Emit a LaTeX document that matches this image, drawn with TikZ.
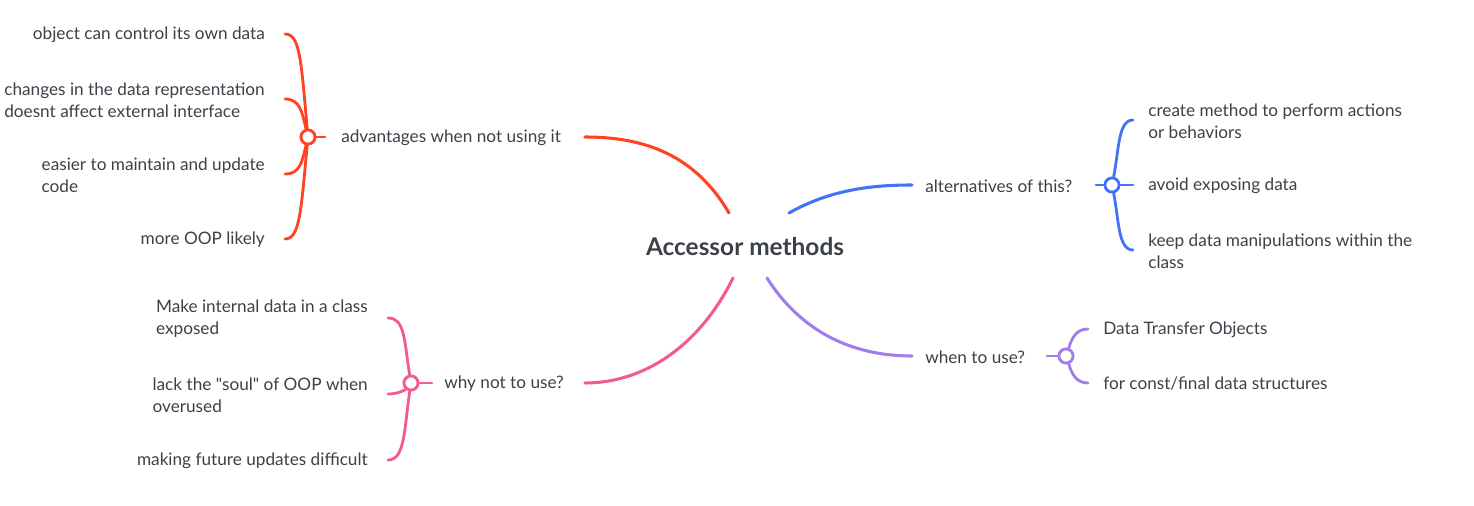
\documentclass[tikz,border=0pt]{standalone}
\usepackage{fontspec}
\setmainfont{Lato}[Ligatures=TeXOff]
\usetikzlibrary{calc}
\definecolor{cred}{HTML}{FF4223}
\definecolor{cpink}{HTML}{F55A8C}
\definecolor{cblue}{HTML}{4272F8}
\definecolor{cpurp}{HTML}{A07CEC}
\definecolor{ctext}{HTML}{3C4048}
\begin{document}
\begin{tikzpicture}[x=0.75pt,y=-0.75pt,
  txt/.style={inner sep=0pt,text=ctext,font=\fontsize{12.9pt}{16.5pt}\selectfont,align=left},
  leafL/.style={txt,anchor=east},
  leafR/.style={txt,anchor=west},
  main/.style={line width=2.3pt,line cap=round},
  sub/.style={line width=2.1pt,line cap=round},
  hub/.style={circle,draw=#1,fill=white,line width=2pt,minimum size=10.5pt,inner sep=0pt}]
\useasboundingbox (0,0) rectangle (1474,506);
% root
\node[inner sep=0pt,text=ctext,font=\bfseries\fontsize{18.3pt}{22pt}\selectfont] (root) at (745,247) {Accessor methods};
\coordinate (rA) at (729,213);
\coordinate (rC) at (789,213);
\coordinate (rB) at (733,278);
\coordinate (rD) at (767,278);
% red branch
\node[txt,anchor=west] (bA) at (341,138) {advantages when not using it};
\coordinate (bAe) at (585,137);
\coordinate (bAw) at (325,137);
\draw[main,cred] (rA) .. controls (695,155) and (645,137) .. (bAe);
\node[hub=cred] (cA) at (308,137) {};
\node[leafL] (a1) at (265,35) {object can control its own data};
\node[leafL] (a2) at (265,100) {changes in the data representation\\doesnt affect external interface};
\node[leafL] (a3) at (265,175) {easier to maintain and update\\code};
\node[leafL] (a4) at (265,240) {more OOP likely};
\begin{scope}[sub,cred]
\draw (cA) -- (bAw);
\draw (cA) .. controls (301,60) and (300,34) .. ($(a1.east)+(20,-1)$);
\draw (cA) .. controls (302,112) and (300,99) .. ($(a2.east)+(20,-1)$);
\draw (cA) .. controls (302,162) and (300,174) .. ($(a3.east)+(20,-1)$);
\draw (cA) .. controls (301,210) and (300,239) .. ($(a4.east)+(20,-1)$);
\end{scope}
\node[hub=cred] at (cA) {};
% pink branch
\node[txt,anchor=west] (bB) at (444,384) {why not to use?};
\coordinate (bBe) at (585,383);
\coordinate (bBw) at (432,383);
\draw[main,cpink] (rB) .. controls (700,345) and (645,383) .. (bBe);
\node[hub=cpink] (cB) at (411,383) {};
\node[leafL] (p1) at (368,319) {Make internal data in a class\\exposed};
\node[leafL] (p2) at (368,395) {lack the "soul" of OOP when\\overused};
\node[leafL] (p3) at (368,461) {making future updates difficult};
\begin{scope}[sub,cpink]
\draw (cB) -- (bBw);
\draw (cB) .. controls (404,340) and (405,318) .. ($(p1.east)+(20,-1)$);
\draw (cB) .. controls (405,390) and (398,394) .. ($(p2.east)+(20,-1)$);
\draw (cB) .. controls (404,430) and (405,460) .. ($(p3.east)+(20,-1)$);
\end{scope}
\node[hub=cpink] at (cB) {};
% blue branch
\node[txt,anchor=west] (bC) at (925,186) {alternatives of this?};
\coordinate (bCw) at (912,185);
\coordinate (bCe) at (1096,185);
\draw[main,cblue] (rC) .. controls (830,190) and (870,185) .. (bCw);
\node[hub=cblue] (cC) at (1112,185) {};
\node[leafR] (c1) at (1148,121) {create method to perform actions\\or behaviors};
\node[leafR] (c2) at (1148,186) {avoid exposing data};
\node[leafR] (c3) at (1148,251) {keep data manipulations within the\\class};
\begin{scope}[sub,cblue]
\draw (cC) -- (bCe);
\draw (cC) .. controls (1119,150) and (1118,120) .. ($(c1.west)+(-15,-1)$);
\draw (cC) -- ($(c2.west)+(-15,-1)$);
\draw (cC) .. controls (1119,220) and (1118,250) .. ($(c3.west)+(-15,-1)$);
\end{scope}
\node[hub=cblue] at (cC) {};
% purple branch
\node[txt,anchor=west] (bD) at (925,357) {when to use?};
\coordinate (bDw) at (912,356);
\coordinate (bDe) at (1047,356);
\draw[main,cpurp] (rD) .. controls (800,330) and (850,356) .. (bDw);
\node[hub=cpurp] (cD) at (1066,356) {};
\node[leafR] (d1) at (1103,330) {Data Transfer Objects};
\node[leafR] (d2) at (1103,384) {for const/final data structures};
\begin{scope}[sub,cpurp]
\draw (cD) -- (bDe);
\draw (cD) .. controls (1072,338) and (1076,329) .. ($(d1.west)+(-15,-1)$);
\draw (cD) .. controls (1072,374) and (1076,383) .. ($(d2.west)+(-15,-1)$);
\end{scope}
\node[hub=cpurp] at (cD) {};
\end{tikzpicture}
\end{document}
